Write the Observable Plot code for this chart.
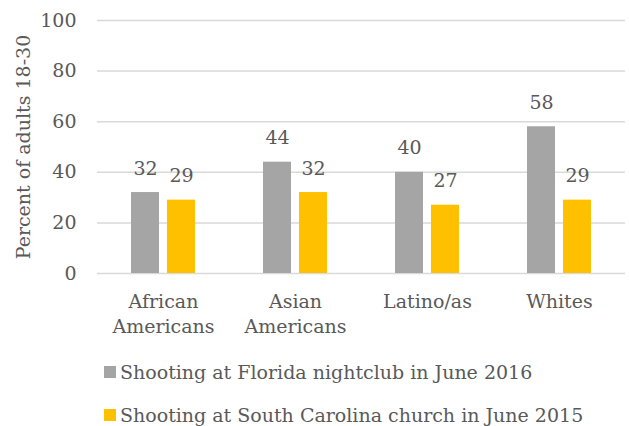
<!DOCTYPE html>
<html><head><meta charset="utf-8">
<script src="https://cdn.jsdelivr.net/npm/d3@7"></script>
<script src="https://cdn.jsdelivr.net/npm/@observablehq/plot@0.6"></script>
<style>
body{margin:0;background:#fff;font-family:"DejaVu Serif",serif;color:#595959}
#legend{position:relative;height:81px}
.row{position:absolute;left:104px;display:flex;align-items:center;font-size:19px;line-height:24px}
.sw{width:12px;height:12px;margin-right:4px}
</style></head><body><div id="chart"></div><div id="legend"></div>
<script>
const groups = ["African Americans","Asian Americans","Latino/as","Whites"];
const groupLabels = ["African\nAmericans","Asian\nAmericans","Latino/as","Whites"];
const series = ["Shooting at Florida nightclub in June 2016","Shooting at South Carolina church in June 2015"];
const nightclub = [32,44,40,58];
const church = [29,32,27,29];
const colors = ["#a5a5a5","#ffc000"];
const yTicks = [0,20,40,60,80,100];
const yLabel = "Percent of adults 18-30";

const data = groups.flatMap((g,i)=>[
  {group:g,series:series[0],value:nightclub[i]},
  {group:g,series:series[1],value:church[i]}
]);

const chart = Plot.plot({
  width:629,height:345,marginTop:20,marginBottom:72,marginLeft:97,marginRight:4,
  style:{fontFamily:"DejaVu Serif, serif",fontSize:"19px",color:"#595959",background:"#fff"},
  fx:{domain:groups,padding:0,label:null,axis:null},
  x:{domain:series,paddingInner:0.216,paddingOuter:0.905,axis:null},
  y:{domain:[0,100]},
  color:{domain:series,range:colors},
  marks:[
    Plot.gridY(yTicks,{stroke:"#d9d9d9",strokeOpacity:1,strokeWidth:1.5}),
    Plot.axisY(yTicks,{tickSize:0,tickPadding:21,label:yLabel,labelAnchor:"center",labelArrow:"none",labelOffset:81,fontSize:19}),
    Plot.axisFx({anchor:"bottom",tickSize:0,tickPadding:17,label:null,tickFormat:d=>groupLabels[groups.indexOf(d)],lineHeight:1.3,fontSize:19}),
    Plot.barY(data,{fx:"group",x:"series",y:"value",fill:"series"}),
    Plot.text(data,{fx:"group",x:"series",y:"value",text:"value",dy:-24,fill:"#595959",fontSize:19})
  ]
});
document.getElementById("chart").appendChild(chart);

const legend = document.getElementById("legend");
series.forEach((s,i)=>{
  const row = document.createElement("div");
  row.className="row";
  row.style.top = (15 + i*43)+"px";
  row.innerHTML = `<span class="sw" style="background:${colors[i]}"></span><span>${s}</span>`;
  legend.appendChild(row);
});
</script></body></html>
